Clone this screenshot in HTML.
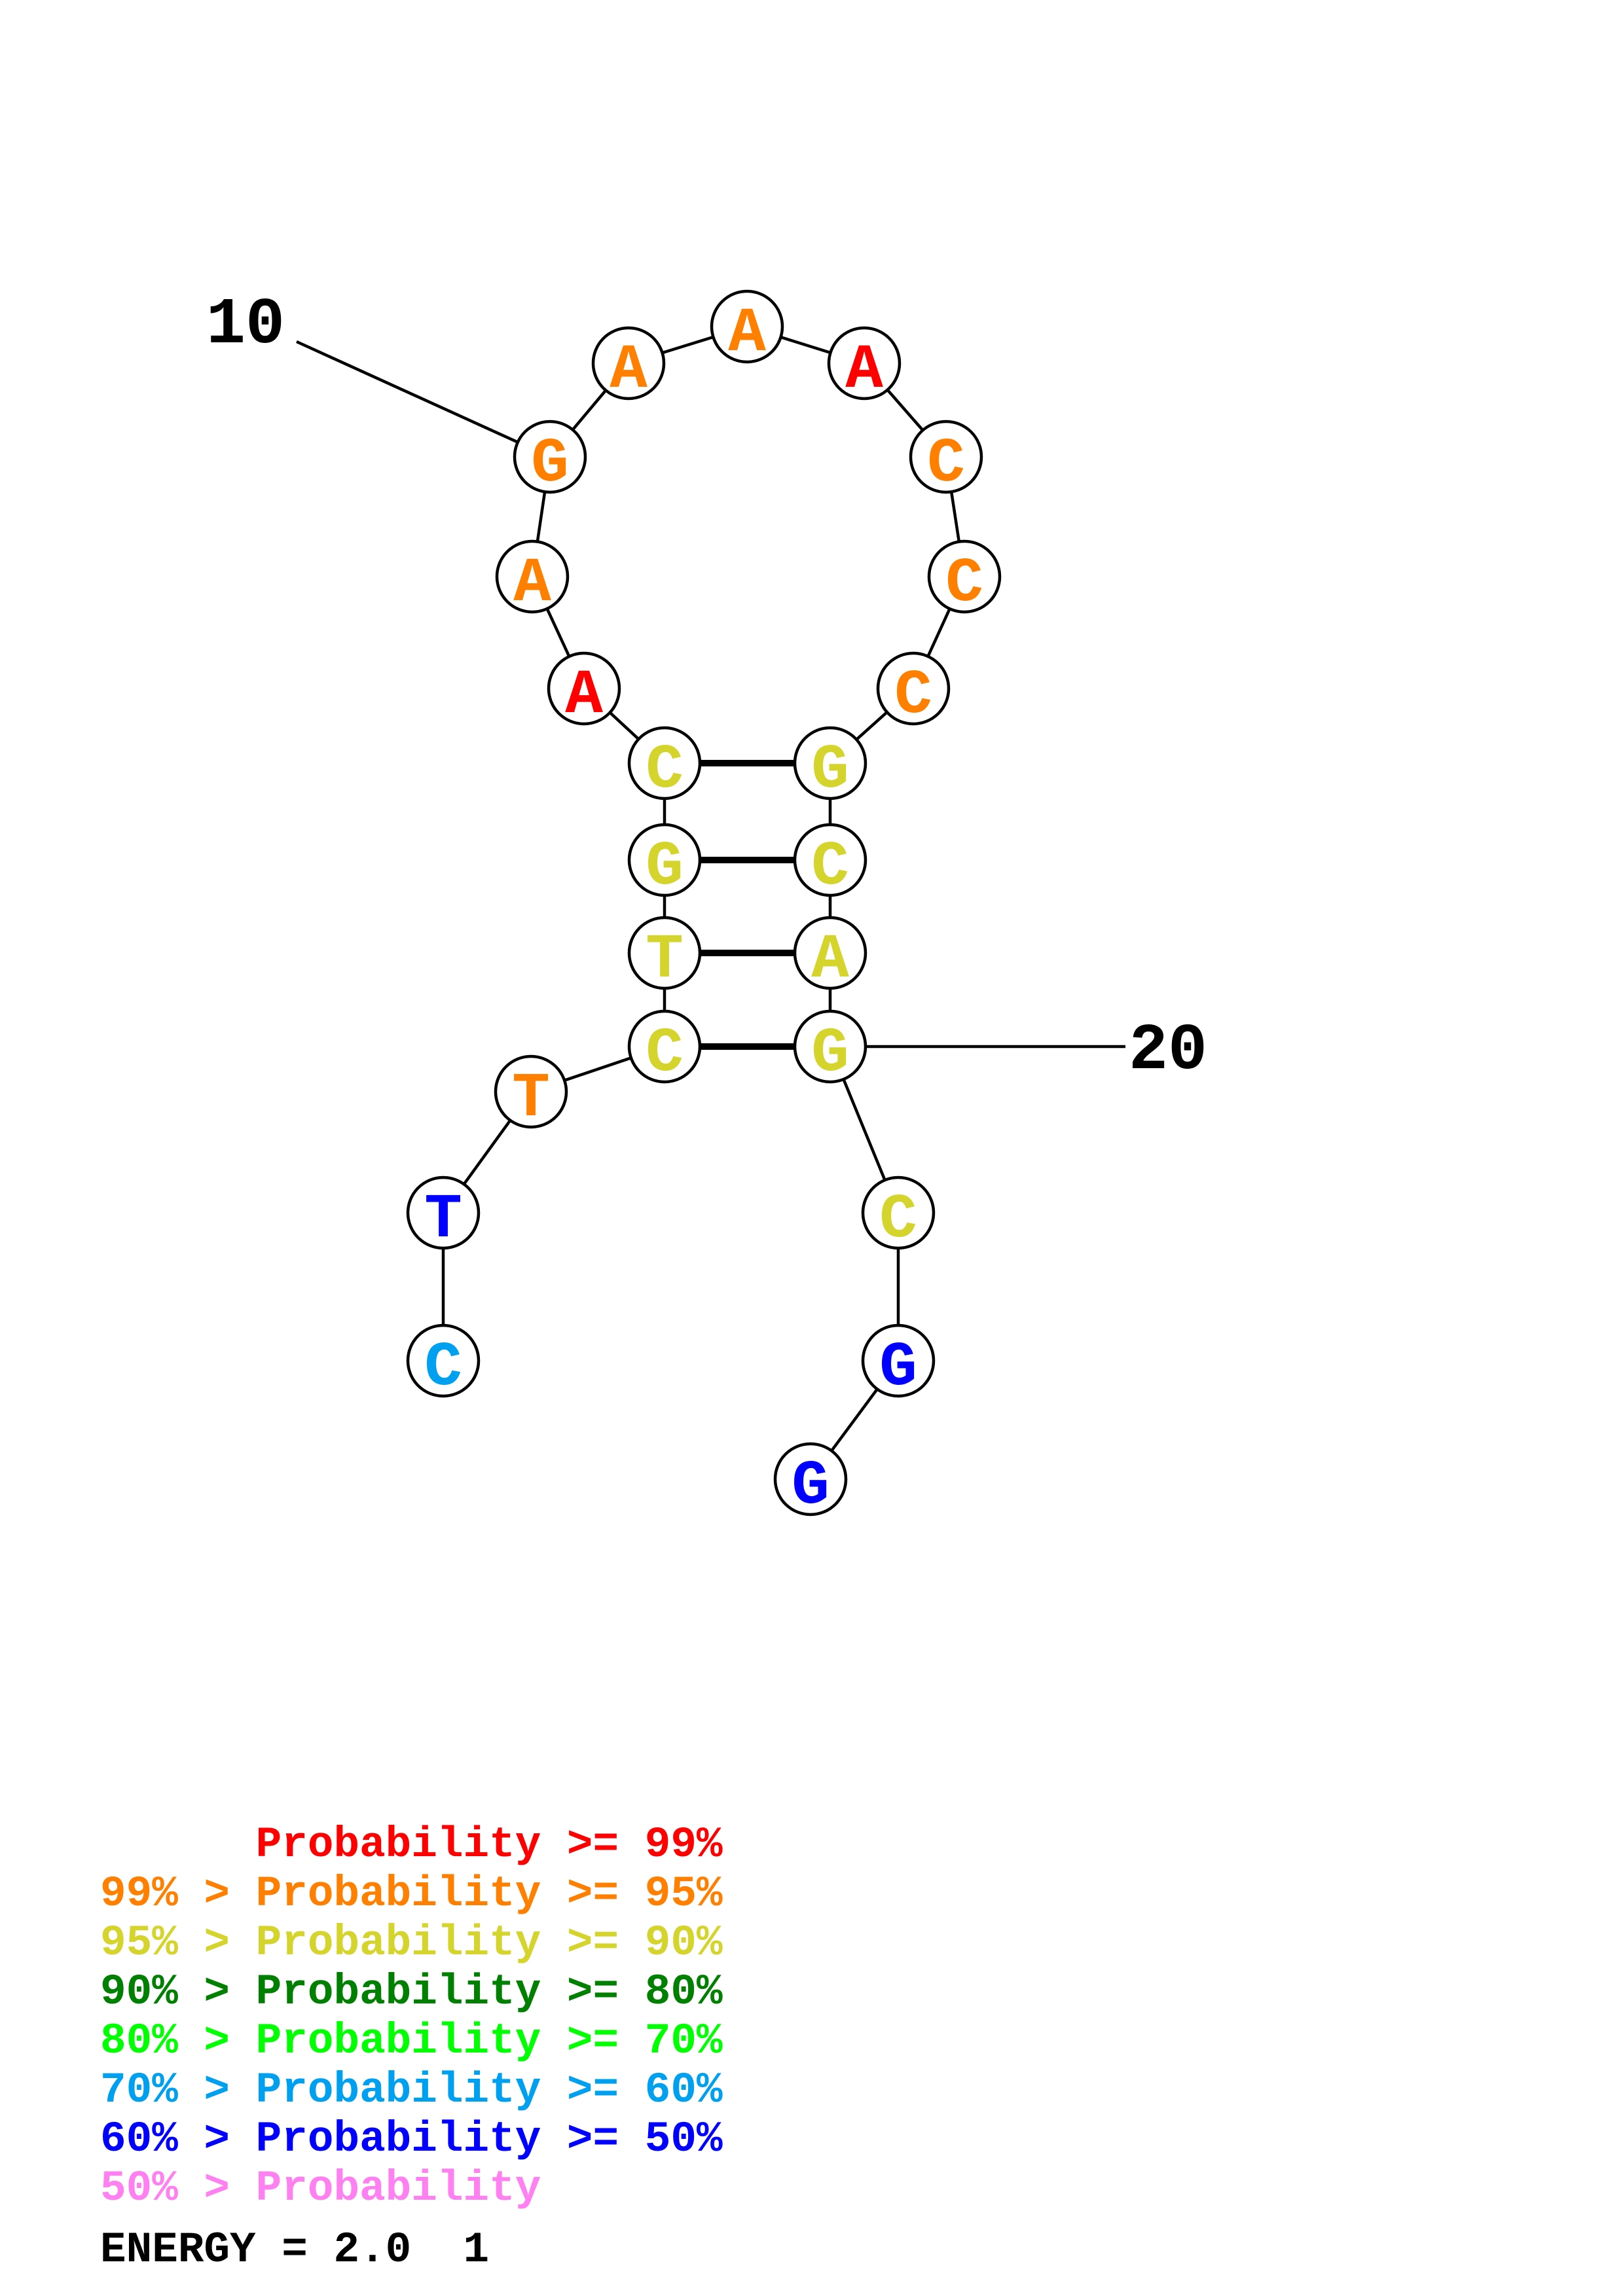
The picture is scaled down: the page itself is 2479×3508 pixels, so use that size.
<!DOCTYPE html>
<html><head><meta charset="utf-8"><style>html,body{margin:0;padding:0;background:#fff}svg{display:block}.leg text{white-space:pre}</style></head>
<body>
<svg xmlns="http://www.w3.org/2000/svg" width="2479" height="3508" viewBox="0 0 2479 3508">
<rect width="2479" height="3508" fill="#fff"/>
<g transform="translate(5,1)">
<g stroke="#000" stroke-width="4.5" fill="none">
<line x1="448" y1="521" x2="835" y2="697"/>
<line x1="1263" y1="1598" x2="1714" y2="1598"/>
<polyline points="672,2078 672,1852 806,1667 1010,1598 1010,1455 1010,1313 1010,1165 887,1051 808,880 835,697 955,554 1136,498 1315,554 1440,697 1468,880 1390,1051 1263,1165 1263,1313 1263,1455 1263,1598 1367,1852 1367,2078 1233,2259"/>
</g>
<g stroke="#000" stroke-width="10">
<line x1="1010" y1="1165" x2="1263" y2="1165"/>
<line x1="1010" y1="1313" x2="1263" y2="1313"/>
<line x1="1010" y1="1455" x2="1263" y2="1455"/>
<line x1="1010" y1="1598" x2="1263" y2="1598"/>
</g>
<g font-family="'Liberation Mono', monospace" font-weight="bold" font-size="96" text-anchor="middle">
<g stroke="#000" stroke-width="4.5" fill="#fff">
<circle cx="835" cy="697" r="54"/><circle cx="955" cy="554" r="54"/><circle cx="1136" cy="498" r="54"/><circle cx="1315" cy="554" r="54"/><circle cx="1440" cy="697" r="54"/><circle cx="808" cy="880" r="54"/><circle cx="1468" cy="880" r="54"/><circle cx="887" cy="1051" r="54"/><circle cx="1390" cy="1051" r="54"/>
<circle cx="1010" cy="1165" r="54"/><circle cx="1263" cy="1165" r="54"/><circle cx="1010" cy="1313" r="54"/><circle cx="1263" cy="1313" r="54"/><circle cx="1010" cy="1455" r="54"/><circle cx="1263" cy="1455" r="54"/><circle cx="1010" cy="1598" r="54"/><circle cx="1263" cy="1598" r="54"/>
<circle cx="806" cy="1667" r="54"/><circle cx="672" cy="1852" r="54"/><circle cx="672" cy="2078" r="54"/><circle cx="1367" cy="1852" r="54"/><circle cx="1367" cy="2078" r="54"/><circle cx="1233" cy="2259" r="54"/>
</g>
<text x="835" y="733" fill="#FF8000">G</text>
<text x="955" y="590" fill="#FF8000">A</text>
<text x="1136" y="534" fill="#FF8000">A</text>
<text x="1315" y="590" fill="#FF0000">A</text>
<text x="1440" y="733" fill="#FF8000">C</text>
<text x="808" y="916" fill="#FF8000">A</text>
<text x="1468" y="916" fill="#FF8000">C</text>
<text x="887" y="1087" fill="#FF0000">A</text>
<text x="1390" y="1087" fill="#FF8000">C</text>
<text x="1010" y="1201" fill="#D4D42C">C</text>
<text x="1263" y="1201" fill="#D4D42C">G</text>
<text x="1010" y="1349" fill="#D4D42C">G</text>
<text x="1263" y="1349" fill="#D4D42C">C</text>
<text x="1010" y="1491" fill="#D4D42C">T</text>
<text x="1263" y="1491" fill="#D4D42C">A</text>
<text x="1010" y="1634" fill="#D4D42C">C</text>
<text x="1263" y="1634" fill="#D4D42C">G</text>
<text x="806" y="1703" fill="#FF8000">T</text>
<text x="672" y="1888" fill="#0000FF">T</text>
<text x="672" y="2114" fill="#00A0F0">C</text>
<text x="1367" y="1888" fill="#D4D42C">C</text>
<text x="1367" y="2114" fill="#0000FF">G</text>
<text x="1233" y="2295" fill="#0000FF">G</text>
<text x="370" y="522" font-size="100" fill="#000">10</text>
<text x="1779" y="1631" font-size="100" fill="#000">20</text>
</g>
</g>
<g class="leg" font-family="'Liberation Mono', monospace" font-weight="bold" font-size="66">
<text x="153" y="2836" fill="#FF0000">      Probability &gt;= 99%</text>
<text x="153" y="2911" fill="#FF8000">99% &gt; Probability &gt;= 95%</text>
<text x="153" y="2986" fill="#D4D42C">95% &gt; Probability &gt;= 90%</text>
<text x="153" y="3061" fill="#008000">90% &gt; Probability &gt;= 80%</text>
<text x="153" y="3136" fill="#00FF00">80% &gt; Probability &gt;= 70%</text>
<text x="153" y="3211" fill="#00A0F0">70% &gt; Probability &gt;= 60%</text>
<text x="153" y="3286" fill="#0000FF">60% &gt; Probability &gt;= 50%</text>
<text x="153" y="3361" fill="#FF80F0">50% &gt; Probability</text>
<text x="153" y="3455" fill="#000">ENERGY = 2.0  1</text>
</g>
</svg>
</body></html>
